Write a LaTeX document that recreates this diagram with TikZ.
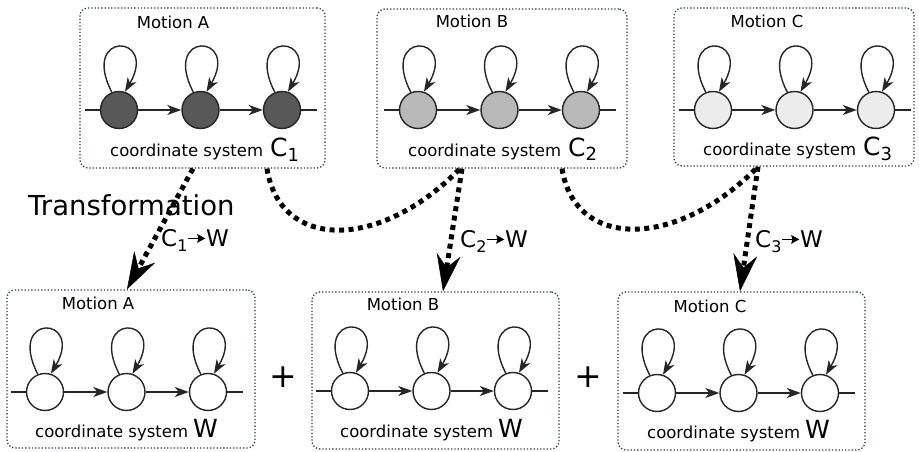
\documentclass[tikz,border=0pt]{standalone}
\usepackage{fontspec}
\setmainfont{DejaVu Sans}
\usetikzlibrary{arrows.meta}
\definecolor{boxline}{RGB}{45,60,75}
\definecolor{darkfill}{RGB}{88,88,88}
\definecolor{midfill}{RGB}{185,185,185}
\definecolor{lightfill}{RGB}{236,236,236}
\newcommand{\mtxt}{\fontsize{16.5}{19}\selectfont}
\newcommand{\bigf}{\fontsize{25}{28}\selectfont}
\newcommand{\subf}{\fontsize{18}{20}\selectfont}
\newcommand{\lblf}{\fontsize{23}{26}\selectfont}
\newcommand{\lsub}{\fontsize{16}{18}\selectfont}
\newcommand{\trf}{\fontsize{27.5}{30}\selectfont}
\newcommand{\plusf}{\fontsize{33}{36}\selectfont}
\newcommand{\tarr}{\tikz[baseline=-0.33em]{\draw[line width=1.8pt,-{Stealth[length=8pt,width=8.5pt,inset=1pt]}] (0pt,0pt) -- (17pt,0pt);}}
\newcommand{\mkchain}[4]{%
  \node[statec, fill=#4] (#1a) at (#2,#3) {};
  \node[statec, fill=#4] (#1b) at (#2+81.5,#3) {};
  \node[statec, fill=#4] (#1c) at (#2+163,#3) {};
  \coordinate (#1l) at (#2-34,#3);
  \coordinate (#1r) at (#2+198,#3);
  \draw[chainline] (#1l) -- (#1a);
  \draw[chainline,arr] (#1a) -- (#1b);
  \draw[chainline,arr] (#1b) -- (#1c);
  \draw[chainline] (#1c) -- (#1r);
  \foreach \n in {a,b,c}{\draw[chainline,arr] (#1\n.112) .. controls +(-32,-62) and +(34,-58) .. (#1\n.72);}
}
\begin{document}
\begin{tikzpicture}[x=1pt,y=-1pt,
  bx/.style={draw=boxline, line width=1.3pt, dotted, rounded corners=8pt, inner sep=0pt},
  statec/.style={circle, draw=black!85, line width=1.4pt, minimum size=37pt, inner sep=0pt},
  chainline/.style={draw=black!85, line width=1.4pt},
  arr/.style={-{Stealth[length=14pt,width=10pt,inset=4pt]}},
  conn/.style={draw=black, line width=5pt, dash pattern=on 5pt off 4.5pt},
  bigarr/.style={-{Stealth[length=37pt,width=24pt,inset=13pt,line width=0.5pt]}},
  txt/.style={font=\mtxt, inner sep=0pt, text=black}]
\useasboundingbox (0,0) rectangle (919,452);
\fill[white] (0,0) rectangle (919,452);

% boxes
\node[bx, minimum width=245pt, minimum height=160pt] (TA) at (202.5,88) {};
\node[bx, minimum width=250pt, minimum height=159pt] (TB) at (502,88.5) {};
\node[bx, minimum width=240pt, minimum height=158pt] (TC) at (794,87) {};
\node[bx, minimum width=248pt, minimum height=158pt] (BA) at (131,369) {};
\node[bx, minimum width=247pt, minimum height=157pt] (BB) at (435.5,370.5) {};
\node[bx, minimum width=247pt, minimum height=158pt] (BC) at (741.5,371) {};

% chains
\mkchain{ta}{119}{110}{darkfill}
\mkchain{tb}{418}{110}{midfill}
\mkchain{tc}{713}{110}{lightfill}
\mkchain{ba}{45}{392}{white}
\mkchain{bb}{350}{391}{white}
\mkchain{bc}{657}{393}{white}

% texts
\node[txt, anchor=base] (TAm) at (173,29) {Motion A};
\node[txt, anchor=base] (TBm) at (472,28) {Motion B};
\node[txt, anchor=base] (TCm) at (767,28) {Motion C};
\node[txt, anchor=base] (BAm) at (98,309) {Motion A};
\node[txt, anchor=base] (BBm) at (403,310) {Motion B};
\node[txt, anchor=base] (BCm) at (710,312) {Motion C};

\node[txt, anchor=base west] (TAs) at (110,157) {coordinate system\hspace{7pt}{\bigf C}\raisebox{-5pt}{\subf 1}};
\node[txt, anchor=base west] (TBs) at (408,156) {coordinate system\hspace{7pt}{\bigf C}\raisebox{-5pt}{\subf 2}};
\node[txt, anchor=base west] (TCs) at (703,155) {coordinate system\hspace{7pt}{\bigf C}\raisebox{-5pt}{\subf 3}};
\node[txt, anchor=base west] (BAs) at (35,437) {coordinate system\hspace{5pt}{\bigf W}};
\node[txt, anchor=base west] (BBs) at (340,437) {coordinate system\hspace{5pt}{\bigf W}};
\node[txt, anchor=base west] (BCs) at (647,438) {coordinate system\hspace{5pt}{\bigf W}};

\node[txt, font=\plusf] (plus1) at (283,377) {+};
\node[txt, font=\plusf] (plus2) at (588,377) {+};

\node[txt, font=\trf, anchor=base west] (trans) at (28,215) {Transformation};
\node[txt, font=\lblf, anchor=base west] (L1) at (161,246) {C\raisebox{-5pt}{\lsub 1}\tarr W};
\node[txt, font=\lblf, anchor=base west] (L2) at (460,247) {C\raisebox{-5pt}{\lsub 2}\tarr W};
\node[txt, font=\lblf, anchor=base west] (L3) at (755,247) {C\raisebox{-5pt}{\lsub 3}\tarr W};

% connectors
\draw[conn, bigarr] ([xshift=-9.5pt]TA.south) -- ([xshift=-4pt]BA.north);
\draw[conn] ([xshift=64.5pt]TA.south) .. controls +(13,82) and +(-80,82) .. ([xshift=-42pt]TB.south);
\draw[conn, bigarr] ([xshift=-40pt]TB.south) -- ([xshift=7.5pt]BB.north);
\draw[conn] ([xshift=60pt]TB.south) .. controls +(13,82) and +(-80,82) .. ([xshift=-36pt]TC.south);
\draw[conn, bigarr] ([xshift=-36pt]TC.south) -- ([xshift=-1.5pt]BC.north);
\end{tikzpicture}
\end{document}
